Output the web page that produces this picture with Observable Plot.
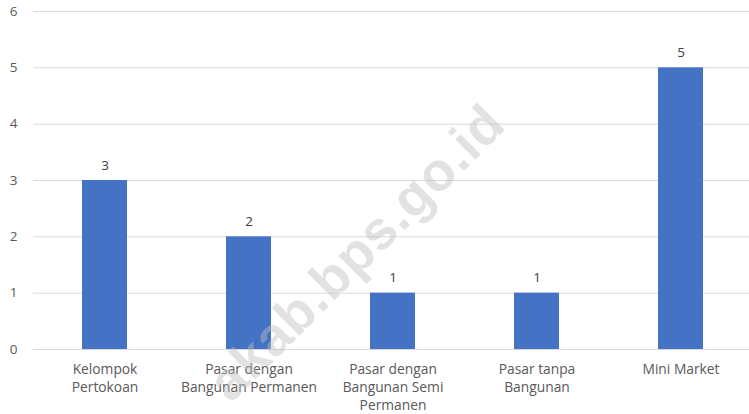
<!DOCTYPE html>
<html>
<head>
<meta charset="utf-8">
<script src="https://cdn.jsdelivr.net/npm/d3@7"></script>
<script src="https://cdn.jsdelivr.net/npm/@observablehq/plot@0.6"></script>
<style>
  html, body { margin: 0; padding: 0; background: #fff; }
  #wrap { position: relative; width: 749px; height: 414px; overflow: hidden; }
  #wm {
    position: absolute; left: 356px; top: 252px;
    transform: translate(-50%, -50%) rotate(-45deg);
    font-family: "Liberation Sans", Arial, sans-serif; font-weight: bold;
    font-size: 54px; color: rgba(190,190,190,0.45); white-space: nowrap;
    pointer-events: none; letter-spacing: 1px;
  }
</style>
</head>
<body>
<div id="wrap"><div id="chart"></div><div id="wm">akab.bps.go.id</div></div>
<script>
const categories = ["Kelompok Pertokoan", "Pasar dengan Bangunan Permanen", "Pasar dengan Bangunan Semi Permanen", "Pasar tanpa Bangunan", "Mini Market"];
const labelLines = ["Kelompok\nPertokoan", "Pasar dengan\nBangunan Permanen", "Pasar dengan\nBangunan Semi\nPermanen", "Pasar tanpa\nBangunan", "Mini Market"];
const values = [3, 2, 1, 1, 5];
const yTicks = [0, 1, 2, 3, 4, 5, 6];

const data = categories.map((c, i) => ({category: c, value: values[i]}));
const labelOf = new Map(categories.map((c, i) => [c, labelLines[i]]));

const chart = Plot.plot({
  width: 749,
  height: 414,
  marginTop: 11,
  marginBottom: 65,
  marginLeft: 33,
  marginRight: 0,
  style: {fontFamily: "'Open Sans', 'Liberation Sans', sans-serif", fontSize: "13.5px", color: "#595959", background: "transparent"},
  x: {domain: categories, range: [32, 752], paddingInner: 0.69, paddingOuter: 0.345, align: 0.5, label: null},
  y: {domain: [0, 6], label: null},
  marks: [
    Plot.gridY(yTicks, {stroke: "#d9d9d9", strokeOpacity: 1, strokeWidth: 1}),
    Plot.barY(data, {x: "category", y: "value", fill: "#4472C4"}),
    Plot.text(data, {x: "category", y: "value", text: d => String(d.value), dy: -11, lineAnchor: "bottom", fill: "#404040", fontSize: 13.5}),
    Plot.axisY(yTicks, {tickSize: 0, tickPadding: 16, textAnchor: "end", label: null, tickFormat: d3.format("d"), fill: "#595959", fontSize: 13.5}),
    Plot.axisX({tickSize: 0, tickPadding: 11, label: null, tickFormat: d => labelOf.get(d), lineHeight: 1.33, fill: "#595959", fontSize: 13.8})
  ]
});
document.getElementById("chart").appendChild(chart);
</script>
</body>
</html>
